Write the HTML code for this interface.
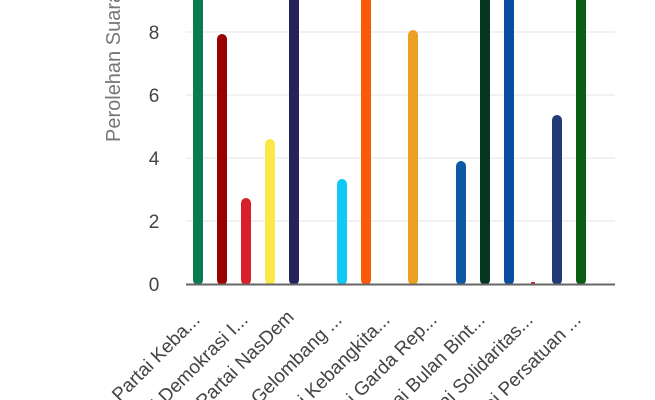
<!DOCTYPE html>
<html><head><style>
html,body{margin:0;padding:0;background:#fff;overflow:hidden;width:655px;height:400px;}
svg{display:block;font-family:"Liberation Sans",sans-serif;}
</style></head><body>
<svg width="655" height="400" viewBox="0 0 655 400" overflow="hidden">
<g stroke="#e6e6e6" stroke-width="1">
<line x1="186" x2="615" y1="32" y2="32"/>
<line x1="186" x2="615" y1="95" y2="95"/>
<line x1="186" x2="615" y1="158" y2="158"/>
<line x1="186" x2="615" y1="221" y2="221"/>
</g>
<g font-size="19" fill="#444" text-anchor="middle">
<text x="154" y="39">8</text>
<text x="154" y="102">6</text>
<text x="154" y="165">4</text>
<text x="154" y="228">2</text>
<text x="154" y="291">0</text>
</g>
<text transform="translate(120,142) rotate(-90)" font-size="20" fill="#777">Perolehan Suara (%)</text>
<g stroke-width="10" stroke-linecap="round">
<line x1="198" x2="198" y1="-10" y2="280" stroke="#0b7a4f"/>
<line x1="222" x2="222" y1="39" y2="280" stroke="#9b0000"/>
<line x1="246" x2="246" y1="203" y2="280" stroke="#d8202a"/>
<line x1="270" x2="270" y1="144" y2="280" stroke="#fbe94a"/>
<line x1="294" x2="294" y1="-10" y2="280" stroke="#25235e"/>
<line x1="342" x2="342" y1="184" y2="280" stroke="#12c8f4"/>
<line x1="366" x2="366" y1="-10" y2="280" stroke="#f85a0a"/>
<line x1="413" x2="413" y1="35" y2="280" stroke="#eba022"/>
<line x1="461" x2="461" y1="166" y2="280" stroke="#0b5aa3"/>
<line x1="485" x2="485" y1="-10" y2="280" stroke="#06361f"/>
<line x1="509" x2="509" y1="-10" y2="280" stroke="#0a4f9f"/>
<line x1="557" x2="557" y1="120" y2="280" stroke="#223a78"/>
<line x1="581" x2="581" y1="-10" y2="280" stroke="#0a5d14"/>
</g>
<rect x="180" y="285" width="440" height="10" fill="#fff"/>
<line x1="531" x2="535" y1="283" y2="283" stroke="#d8202a" stroke-width="2"/>
<line x1="186" x2="615" y1="284.5" y2="284.5" stroke="#666" stroke-width="2"/>
<g font-size="19" fill="#444" text-anchor="end">
<text transform="translate(201,321) rotate(-45)">Partai Keba...</text>
<text transform="translate(249,321) rotate(-45)">Partai Demokrasi I...</text>
<text transform="translate(295,318) rotate(-45)">Partai NasDem</text>
<text transform="translate(343,321) rotate(-45)">Partai Gelombang ...</text>
<text transform="translate(391,321) rotate(-45)">Partai Kebangkita...</text>
<text transform="translate(438,321) rotate(-45)">Partai Garda Rep...</text>
<text transform="translate(486,321) rotate(-45)">Partai Bulan Bint...</text>
<text transform="translate(534,321) rotate(-45)">Partai Solidaritas...</text>
<text transform="translate(582,321) rotate(-45)">Partai Persatuan ...</text>
</g>
</svg>
</body></html>
